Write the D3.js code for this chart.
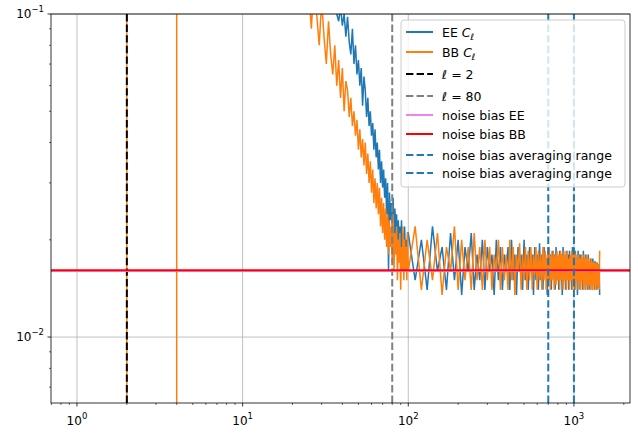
<!DOCTYPE html>
<html><head><meta charset="utf-8">
<script src="https://cdn.jsdelivr.net/npm/d3@7"></script>
<style>body{margin:0;background:#fff}text{font-family:"DejaVu Sans",sans-serif}</style>
</head><body><svg id="c" width="638" height="439"></svg>
<script>
// multipoles for the low-ell (offscreen / vertical) part
const bbLowEll = [2,2,3,4,4,4,5,10,20];
const bbLowVal = [1e-6,1.0,0.5,0.5,1e-6,0.5,0.5,0.4,0.3];
const eeLowEll = [3,10,20];
const eeLowVal = [0.8,0.6,0.4];
// ell 30..99 EE, ell 25..99 BB (step 1)
const eeMid = [0.25,0.2,0.18,0.15,0.14,0.12,0.11,0.1,0.095,0.105,
0.092,0.1,0.085,0.098,0.082,0.075,0.09,0.07,0.08,0.065,
0.072,0.06,0.068,0.052,0.064,0.058,0.048,0.055,0.045,0.05,
0.042,0.046,0.038,0.044,0.036,0.04,0.033,0.038,0.03,0.035,
0.029,0.033,0.027,0.031,0.024,0.03,0.016,0.028,0.023,0.026,
0.022,0.027,0.02,0.025,0.021,0.024,0.019,0.023,0.02,0.022,
0.018,0.023,0.019,0.021,0.017,0.022,0.018,0.02,0.016,0.021];
const bbMid = [0.12,0.09,0.13,0.1,0.08,0.11,0.085,0.07,0.095,0.075,
0.065,0.08,0.06,0.072,0.055,0.068,0.05,0.062,0.058,0.048,
0.055,0.045,0.05,0.042,0.047,0.038,0.044,0.036,0.041,0.034,
0.04,0.032,0.037,0.03,0.035,0.028,0.033,0.026,0.031,0.025,
0.03,0.024,0.029,0.022,0.027,0.021,0.026,0.02,0.025,0.019,
0.024,0.018,0.023,0.019,0.022,0.017,0.024,0.016,0.021,0.018,
0.022,0.015,0.02,0.017,0.021,0.014,0.019,0.016,0.022,0.015,
0.02,0.016,0.019,0.015,0.021];
// ell 100..1530 step 10
const eeHigh = [0.021,0.015,0.02,0.014,0.022,0.016,0.019,0.014,0.021,0.015,
0.02,0.0135,0.019,0.016,0.021,0.014,0.018,0.015,0.02,0.014,
0.019,0.016,0.018,0.0135,0.02,0.015,0.019,0.014,0.018,0.016,
0.019,0.014,0.02,0.015,0.018,0.0135,0.019,0.016,0.018,0.014,
0.02,0.015,0.018,0.014,0.019,0.016,0.018,0.0135,0.019,0.015,
0.018,0.014,0.0195,0.015,0.018,0.014,0.019,0.016,0.0175,0.0135,
0.019,0.015,0.018,0.014,0.0185,0.0155,0.018,0.014,0.019,0.015,
0.0175,0.014,0.0185,0.015,0.018,0.0135,0.019,0.015,0.0175,0.014,
0.0185,0.0155,0.018,0.014,0.0185,0.015,0.0175,0.014,0.019,0.015,
0.018,0.014,0.0185,0.015,0.0175,0.0135,0.0185,0.015,0.018,0.014,
0.018,0.015,0.0175,0.014,0.0185,0.015,0.0175,0.014,0.018,0.015,
0.0175,0.014,0.018,0.015,0.017,0.014,0.0175,0.0145,0.017,0.014,
0.0175,0.0145,0.017,0.014,0.0172,0.0145,0.0168,0.014,0.017,0.0142,
0.0168,0.0145,0.0165,0.0135];
const bbHigh = [0.016,0.022,0.014,0.02,0.015,0.021,0.0135,0.019,0.016,0.022,
0.014,0.02,0.015,0.019,0.014,0.021,0.015,0.019,0.014,0.02,
0.015,0.019,0.014,0.018,0.016,0.02,0.014,0.019,0.015,0.018,
0.014,0.02,0.015,0.019,0.0135,0.018,0.016,0.0195,0.014,0.018,
0.015,0.019,0.014,0.0185,0.015,0.019,0.014,0.018,0.0155,0.019,
0.014,0.0185,0.015,0.018,0.014,0.019,0.015,0.0185,0.014,0.018,
0.015,0.019,0.014,0.018,0.015,0.0185,0.014,0.018,0.0145,0.0185,
0.015,0.018,0.014,0.0185,0.015,0.018,0.014,0.0185,0.015,0.018,
0.014,0.0185,0.015,0.0175,0.014,0.018,0.015,0.0185,0.014,0.018,
0.015,0.0185,0.014,0.018,0.015,0.0175,0.014,0.018,0.0145,0.0175,
0.014,0.018,0.015,0.0175,0.014,0.018,0.0145,0.0175,0.014,0.018,
0.0145,0.0175,0.014,0.0175,0.0145,0.017,0.014,0.0175,0.0145,0.017,
0.014,0.0172,0.0145,0.017,0.014,0.0168,0.0145,0.017,0.014,0.0168,
0.0145,0.0165,0.014,0.0185];
const noiseEE = 0.0160, noiseBB = 0.0161;
const vEll2 = 2, vEll80 = 80, avgRange = [700, 1000];
const xTicks = [1,10,100,1000], xTickExp = ["0","1","2","3"];
const yTicks = [0.1,0.01], yTickExp = ["−1","−2"];

function build(lowE,lowV,midStart,mid,high){
  const pts=lowE.map((e,i)=>[e,lowV[i]]);
  mid.forEach((v,i)=>pts.push([midStart+i,v]));
  high.forEach((v,i)=>pts.push([100+10*i,v]));
  return pts;
}
const ee=build(eeLowEll,eeLowVal,30,eeMid,eeHigh);
const bb=build(bbLowEll,bbLowVal,25,bbMid,bbHigh);

const L=51,R=630,T=14,B=403;
const svg=d3.select("#c");
const x=d3.scaleLog().domain([0.697,2180]).range([L,R]);
const y=d3.scaleLog().domain([0.00625,0.1]).range([B,T]);
svg.append("defs").append("clipPath").attr("id","cp").append("rect").attr("x",L).attr("y",T).attr("width",R-L).attr("height",B-T);
const g=svg.append("g");
xTicks.forEach(t=>g.append("line").attr("x1",x(t)).attr("x2",x(t)).attr("y1",T).attr("y2",B).attr("stroke","#b0b0b0").attr("stroke-width",0.8));
yTicks.forEach(t=>g.append("line").attr("y1",y(t)).attr("y2",y(t)).attr("x1",L).attr("x2",R).attr("stroke","#b0b0b0").attr("stroke-width",0.8));
const pg=g.append("g").attr("clip-path","url(#cp)");
const line=d3.line().x(d=>x(d[0])).y(d=>y(Math.max(d[1],1e-4)));
pg.append("path").datum(ee).attr("d",line).attr("fill","none").attr("stroke","#1f77b4").attr("stroke-width",1.5);
pg.append("path").datum(bb).attr("d",line).attr("fill","none").attr("stroke","#ff7f0e").attr("stroke-width",1.5);
const vline=(v,c,dash)=>pg.append("line").attr("x1",x(v)).attr("x2",x(v)).attr("y1",T).attr("y2",B).attr("stroke",c).attr("stroke-width",2).attr("stroke-dasharray",dash);
vline(vEll2,"#000","7.4,3.2");
vline(vEll80,"#808080","7.4,3.2");
const hline=(v,c)=>pg.append("line").attr("x1",L).attr("x2",R).attr("y1",y(v)).attr("y2",y(v)).attr("stroke",c).attr("stroke-width",2);
hline(noiseEE,"violet"); hline(noiseBB,"red");
avgRange.forEach(v=>vline(v,"#1f77b4","7.4,3.2"));
g.append("rect").attr("x",L).attr("y",T).attr("width",R-L).attr("height",B-T).attr("fill","none").attr("stroke","#000").attr("stroke-width",0.8);
const xa=g.append("g").attr("transform",`translate(0,${B})`);
for(let d=-1;d<=3;d++)for(let m=1;m<10;m++){const v=m*Math.pow(10,d);if(v<0.697||v>2180)continue;
 xa.append("line").attr("x1",x(v)).attr("x2",x(v)).attr("y1",0).attr("y2",m===1?3.5:2).attr("stroke","#000").attr("stroke-width",m===1?0.8:0.6);}
xTicks.forEach((t,i)=>{const tx=xa.append("text").attr("x",x(t)).attr("y",22).attr("text-anchor","middle").attr("font-size",12);
 tx.append("tspan").text("10");tx.append("tspan").attr("dy",-6).attr("font-size",8.5).text(xTickExp[i]);});
const ya=g.append("g");
for(let d=-3;d<=-1;d++)for(let m=1;m<10;m++){const v=m*Math.pow(10,d);if(v<0.00625||v>0.1001)continue;
 ya.append("line").attr("x1",L).attr("x2",L-(m===1?3.5:2)).attr("y1",y(v)).attr("y2",y(v)).attr("stroke","#000").attr("stroke-width",m===1?0.8:0.6);}
yTicks.forEach((t,i)=>{const tx=ya.append("text").attr("x",L-7).attr("y",y(t)+4).attr("text-anchor","end").attr("font-size",12);
 tx.append("tspan").text("10");tx.append("tspan").attr("dy",-6).attr("font-size",8.5).text(yTickExp[i]);});
const lg=svg.append("g");
lg.append("rect").attr("x",401).attr("y",20).attr("width",224).attr("height",167).attr("rx",3).attr("fill","#fff").attr("fill-opacity",0.8).attr("stroke","#ccc");
const items=[["EE ","#1f77b4",null,"C"],["BB ","#ff7f0e",null,"C"],["","#000","7.4,3.2","l2"],["","#808080","7.4,3.2","l80"],
["noise bias EE","violet",null],["noise bias BB","red",null],["noise bias averaging range","#1f77b4","7.4,3.2"],["noise bias averaging range","#1f77b4","7.4,3.2"]];
const ys=[32,52,74,96,115,134,155,173];
items.forEach((it,i)=>{const yy=ys[i];
 lg.append("line").attr("x1",406).attr("x2",433).attr("y1",yy).attr("y2",yy).attr("stroke",it[1]).attr("stroke-width",2).attr("stroke-dasharray",it[2]);
 const t=lg.append("text").attr("x",442).attr("y",yy+4.5).attr("font-size",12.5);
 if(it[3]==="C"){t.append("tspan").text(it[0]);t.append("tspan").attr("font-style","italic").text("C");t.append("tspan").attr("dy",3).attr("font-size",9).attr("font-style","italic").text("ℓ");}
 else if(it[3]==="l2"){t.append("tspan").attr("font-style","italic").text("ℓ");t.append("tspan").text(" = 2");}
 else if(it[3]==="l80"){t.append("tspan").attr("font-style","italic").text("ℓ");t.append("tspan").text(" = 80");}
 else t.text(it[0]);});
</script></body></html>
